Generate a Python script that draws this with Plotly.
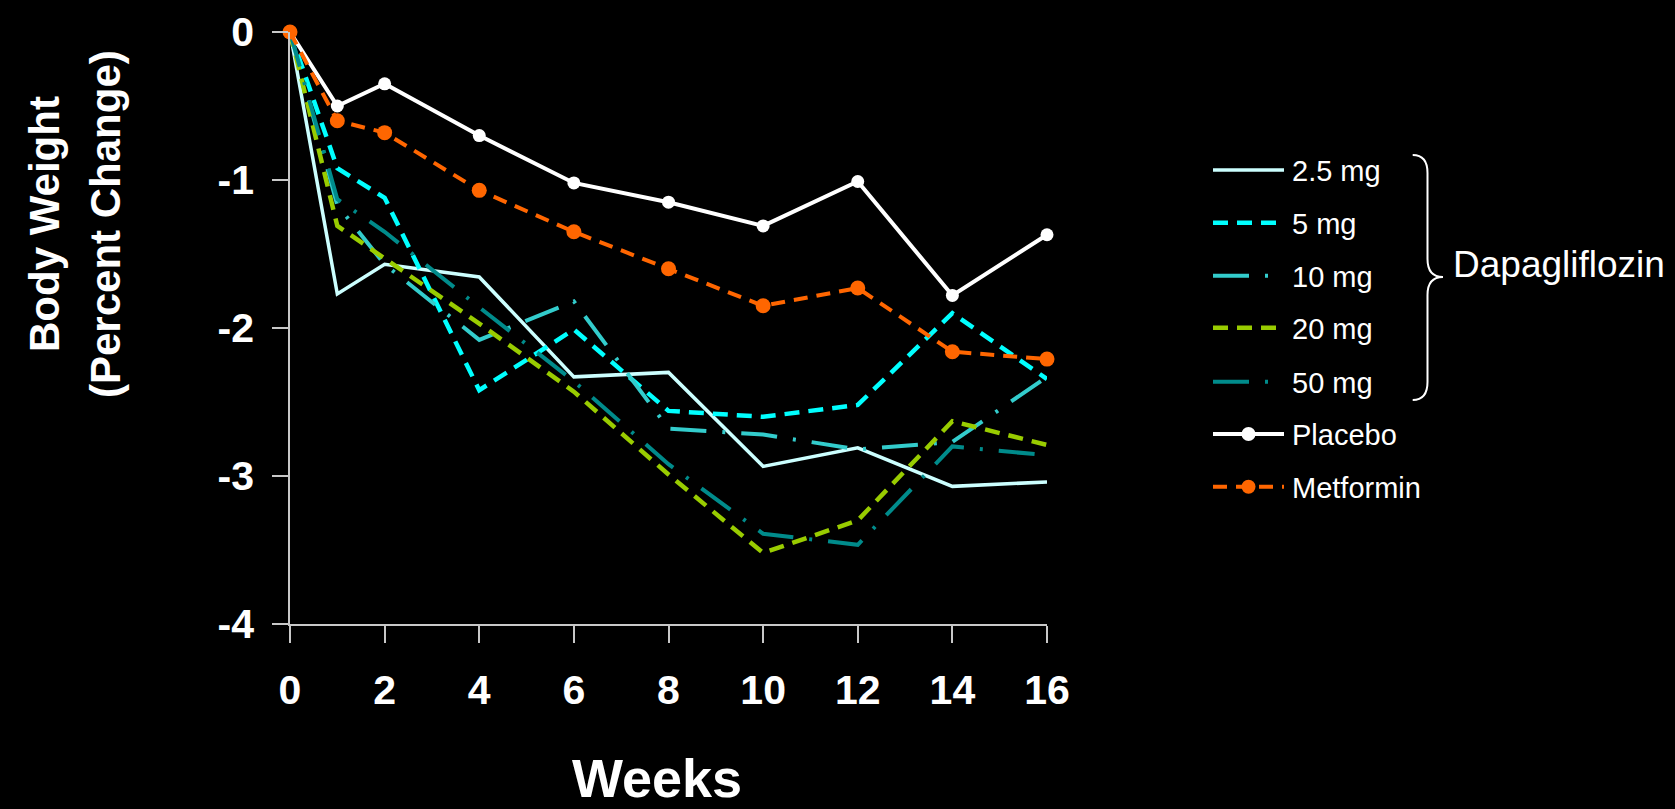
import plotly.graph_objects as go

# Weeks of treatment and mean percent change in body weight per arm
weeks = [0, 1, 2, 4, 6, 8, 10, 12, 14, 16]
dapa_2_5mg = [0, -1.77, -1.57, -1.655, -2.33, -2.30, -2.935, -2.81, -3.07, -3.04]
dapa_5mg = [0, -0.92, -1.12, -2.42, -2.01, -2.56, -2.60, -2.52, -1.90, -2.345]
dapa_10mg = [0, -1.17, -1.57, -2.08, -1.82, -2.68, -2.72, -2.82, -2.77, -2.33]
dapa_20mg = [0, -1.31, -1.53, -1.97, -2.43, -2.99, -3.52, -3.30, -2.63, -2.79]
dapa_50mg = [0, -1.13, -1.35, -1.86, -2.36, -2.92, -3.39, -3.465, -2.80, -2.86]
placebo = [0, -0.50, -0.35, -0.70, -1.02, -1.15, -1.31, -1.01, -1.78, -1.37]
metformin = [0, -0.60, -0.68, -1.07, -1.35, -1.60, -1.85, -1.73, -2.16, -2.21]

x_ticks = [0, 2, 4, 6, 8, 10, 12, 14, 16]
y_ticks = [0, -1, -2, -3, -4]

W, H = 1675, 809
L, R, T, B = 290, 1047, 32, 624  # plot area edges in px

BOLD_FONT = "Liberation Sans Narrow, Arial Narrow, Liberation Sans, Arial, sans-serif"
SANS = "Liberation Sans, Arial, sans-serif"
AXIS_GREY = "#c8c8c8"

DASH_SHORT = "15px,9px"
DASH_LONG_DOT = "36px,16px,3px,16px"

series = [
    ("2.5 mg", dapa_2_5mg, "#ccffff", 3.5, "solid"),
    ("5 mg", dapa_5mg, "#00ffff", 4.5, DASH_SHORT),
    ("10 mg", dapa_10mg, "#33cccc", 4, DASH_LONG_DOT),
    ("20 mg", dapa_20mg, "#99cc00", 4.5, DASH_SHORT),
    ("50 mg", dapa_50mg, "#008b8b", 4, DASH_LONG_DOT),
]

fig = go.Figure()
for name, vals, color, width, dash in series:
    fig.add_trace(go.Scatter(
        x=weeks, y=vals, name=name, mode="lines",
        line=dict(color=color, width=width, dash=dash),
        cliponaxis=False, showlegend=False,
    ))

fig.add_trace(go.Scatter(
    x=weeks, y=placebo, name="Placebo", mode="lines+markers",
    line=dict(color="#ffffff", width=4),
    marker=dict(color="#ffffff", size=13),
    cliponaxis=False, showlegend=False,
))
fig.add_trace(go.Scatter(
    x=weeks, y=metformin, name="Metformin", mode="lines+markers",
    line=dict(color="#ff6600", width=4, dash="14px,9px"),
    marker=dict(color="#ff6600", size=15),
    cliponaxis=False, showlegend=False,
))


def px_x(px):
    return (px - L) / (R - L)


def px_y(py):
    return (B - py) / (B - T)


shapes = []
annotations = []

# Hand-built legend on the right
legend_rows = [
    ("2.5 mg", "#ccffff", 3.5, "solid", False, 170),
    ("5 mg", "#00ffff", 4.5, DASH_SHORT, False, 222.7),
    ("10 mg", "#33cccc", 4, DASH_LONG_DOT, False, 275.7),
    ("20 mg", "#99cc00", 4.5, DASH_SHORT, False, 327.7),
    ("50 mg", "#008b8b", 4, DASH_LONG_DOT, False, 381.7),
    ("Placebo", "#ffffff", 4, "solid", True, 434),
    ("Metformin", "#ff6600", 4, "14px,9px", True, 486.7),
]
lx0, lx1, ltext = 1213, 1284, 1290
for label, color, width, dash, has_marker, py in legend_rows:
    shapes.append(dict(
        type="line", xref="paper", yref="paper",
        x0=px_x(lx0), x1=px_x(lx1), y0=px_y(py), y1=px_y(py),
        line=dict(color=color, width=width, dash=dash),
    ))
    if has_marker:
        r = 7
        cx = (lx0 + lx1) / 2
        shapes.append(dict(
            type="circle", xref="paper", yref="paper",
            x0=px_x(cx - r), x1=px_x(cx + r), y0=px_y(py + r), y1=px_y(py - r),
            fillcolor=color, line=dict(color=color, width=0),
        ))
    annotations.append(dict(
        text=label, xref="paper", yref="paper",
        x=px_x(ltext), y=px_y(py + 1), xanchor="left", yanchor="middle",
        showarrow=False, font=dict(family=SANS, size=29, color="#ffffff"),
    ))

# Curly brace grouping the dapagliflozin doses
bx0, bx1, btip = 1412.7, 1427.5, 1443
by0, bmid, by1 = 155, 277, 400
pts = [
    ("M", bx0, by0),
    ("Q", bx1, by0), ("", bx1, by0 + 18),
    ("L", bx1, bmid - 18),
    ("Q", bx1, bmid), ("", btip, bmid),
    ("Q", bx1, bmid), ("", bx1, bmid + 18),
    ("L", bx1, by1 - 18),
    ("Q", bx1, by1), ("", bx0, by1),
]
path = " ".join(f"{cmd}{px_x(x):.5f},{px_y(y):.5f}" for cmd, x, y in pts)
shapes.append(dict(type="path", xref="paper", yref="paper", path=path,
                   line=dict(color="#ffffff", width=2)))
annotations.append(dict(
    text="Dapagliflozin", xref="paper", yref="paper",
    x=px_x(1451), y=px_y(264), xanchor="left", yanchor="middle",
    showarrow=False, font=dict(family=SANS, size=37, color="#ffffff"),
))

# Y-axis title, two rotated lines
for line_text, cx in (("Body Weight", 44), ("(Percent Change)", 105)):
    annotations.append(dict(
        text=line_text, xref="paper", yref="paper",
        x=px_x(cx), y=px_y(224), xanchor="center", yanchor="middle",
        textangle=-90, showarrow=False,
        font=dict(family=BOLD_FONT, size=42, color="#ffffff", weight="bold"),
    ))
annotations.append(dict(
    text="Weeks", xref="paper", yref="paper",
    x=px_x(657), y=px_y(778), xanchor="center", yanchor="middle",
    showarrow=False,
    font=dict(family=BOLD_FONT, size=54, color="#ffffff", weight="bold"),
))

fig.update_layout(
    width=W, height=H,
    margin=dict(l=L, r=W - R, t=T, b=H - B, autoexpand=False),
    paper_bgcolor="#000000", plot_bgcolor="#000000",
    shapes=shapes, annotations=annotations,
    showlegend=False,
)
fig.update_xaxes(
    range=[0, 16], tickvals=x_ticks, ticktext=[str(v) for v in x_ticks],
    showgrid=False, zeroline=False, automargin=False,
    showline=True, linecolor=AXIS_GREY, linewidth=1.5,
    ticks="outside", ticklen=17, tickwidth=1.5, tickcolor=AXIS_GREY,
    tickfont=dict(family=BOLD_FONT, size=41, color="#ffffff", weight="bold"),
    ticklabelstandoff=12,
)
fig.update_yaxes(
    range=[-4, 0], tickvals=y_ticks, ticktext=[str(v) for v in y_ticks],
    showgrid=False, zeroline=False, automargin=False,
    showline=True, linecolor=AXIS_GREY, linewidth=1.5,
    ticks="outside", ticklen=16, tickwidth=1.5, tickcolor=AXIS_GREY,
    tickfont=dict(family=BOLD_FONT, size=41, color="#ffffff", weight="bold"),
    ticklabelstandoff=10,
)

fig.write_html("out.html")
